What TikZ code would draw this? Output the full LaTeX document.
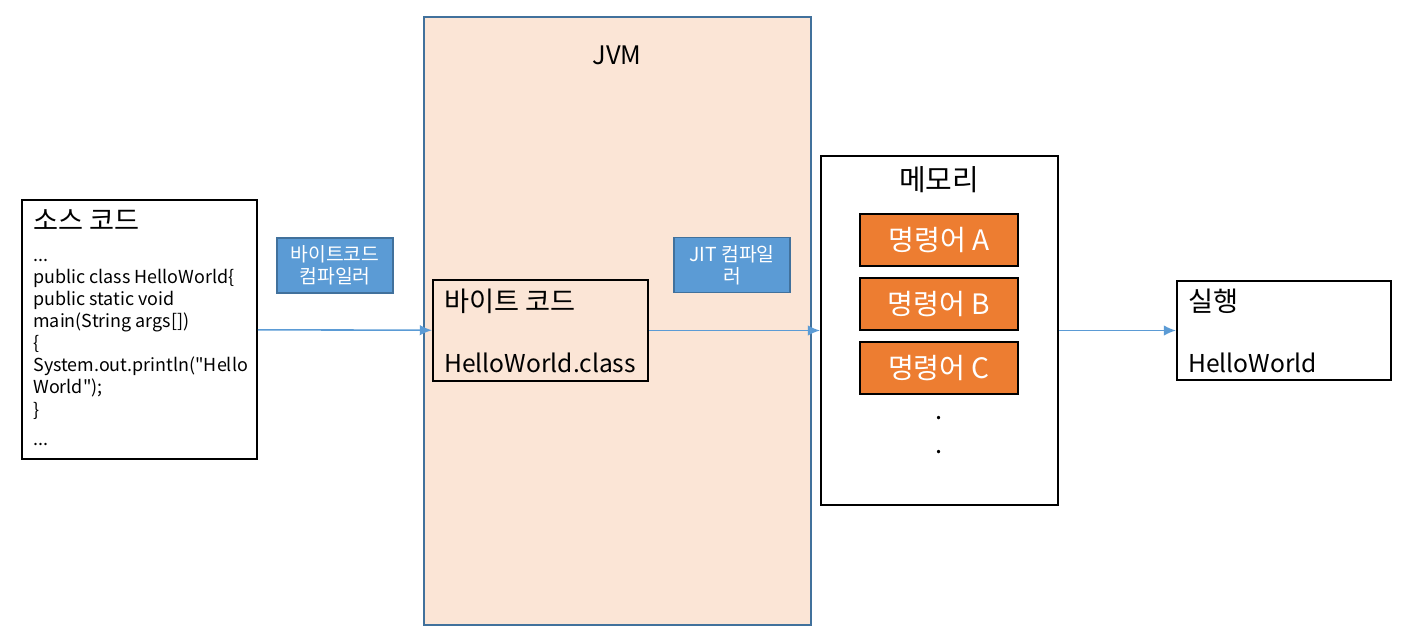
\documentclass[tikz,border=0pt]{standalone}
\usepackage{fontspec}
\setmainfont{Noto Sans CJK KR}
\usetikzlibrary{arrows.meta, positioning}
\tikzset{
  codebox/.style={draw=black,line width=1.1pt,inner sep=0pt},
  jvmbox/.style={draw=jvm_blue,line width=1.1pt,fill=jvm_peach,inner sep=0pt},
  compiler/.style={draw=jvm_blue,line width=1.1pt,fill=label_blue,text=white,align=center,inner sep=0pt,font=\fontsize{11}{12.5}\selectfont,minimum width=2.32cm,minimum height=1.1cm},
  instr/.style={draw=black,line width=1.1pt,fill=instr_orange,text=white,inner sep=0pt,font=\fontsize{16}{17}\selectfont,minimum width=3.16cm,minimum height=1.04cm},
  bigtext/.style={font=\fontsize{14.5}{17.5}\selectfont},
  boxtext/.style={font=\fontsize{14}{17.3}\selectfont,anchor=north west,align=left,inner sep=0pt},
  flow/.style={-{Latex[length=7pt,width=6pt]},draw=label_blue,line width=0.9pt},
}
\definecolor{jvm_peach}{HTML}{FBE5D6}
\definecolor{jvm_blue}{HTML}{41719C}
\definecolor{label_blue}{HTML}{5B9BD5}
\definecolor{instr_orange}{HTML}{ED7D31}

\begin{document}
\begin{tikzpicture}[x=0.02cm,y=-0.02cm]
  \useasboundingbox (0,0) rectangle (1407,643);
  % JVM
  \node[jvmbox,minimum width=7.74cm,minimum height=12.16cm] (JVM) at (617.5,321) {};
  \node[bigtext] (JVMTITLE) at (617,55) {JVM};
  % source
  \node[codebox,minimum width=4.7cm,minimum height=5.18cm] (SRC) at (139.5,329.5) {};
  \node[anchor=north west,align=left,inner sep=0pt,font=\fontsize{10.2}{12.6}\selectfont] (SRCTEXT) at (33,209) {%
    {\fontsize{15.5}{17}\selectfont 소스 코드}\\[5pt]
    ...\\
    public class HelloWorld\{\\
    public static void\\
    main(String args[])\\
    \{\\
    System.out.println(\textquotedbl Hello\\
    World\textquotedbl);\\
    \}\\[4pt]
    ...};
  \node[compiler] (BCC) at (335,265.5) {바이트코드\\컴파일러};
  % bytecode
  \node[codebox,minimum width=4.3cm,minimum height=2.02cm] (BC) at (540.5,330.5) {};
  \node[boxtext] (BCTEXT) at (444,289) {{\fontsize{15.5}{17.3}\selectfont 바이트 코드}\\ \\HelloWorld.class};
  \node[compiler] (JIT) at (732,265) {JIT 컴파일\\러};
  % memory
  \node[codebox,minimum width=4.74cm,minimum height=6.98cm] (MEM) at (939.5,330.5) {};
  \node[font=\fontsize{16.5}{18}\selectfont] (MEMTITLE) at (939,180) {메모리};
  \node[instr] (A) at (939,240) {명령어 A};
  \node[instr,below=0.2cm of A] (B) {명령어 B};
  \node[instr,below=0.2cm of B] (C) {명령어 C};
  \node[bigtext] (DOT1) at (939,418) {.};
  \node[bigtext] (DOT2) at (939,452) {.};
  % run
  \node[codebox,minimum width=4.28cm,minimum height=1.98cm] (RUN) at (1284,330.5) {};
  \node[boxtext] (RUNTEXT) at (1188,289) {{\fontsize{15.5}{17.3}\selectfont 실행}\\ \\HelloWorld};
  \draw[flow] (SRC) -- (BC);
  \draw[flow] (BC) -- (MEM);
  \draw[flow] (MEM) -- (RUN);
\end{tikzpicture}
\end{document}
